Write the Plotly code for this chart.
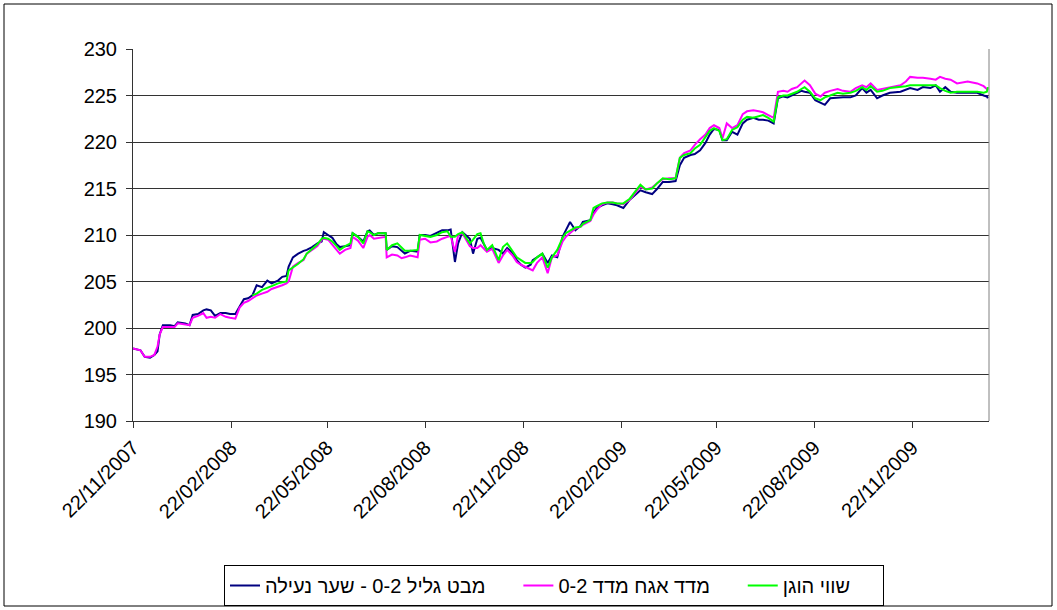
import plotly.graph_objects as go
import pandas as pd

# Days since 22/11/2007 for each reading
days = [0, 7, 11, 16, 20, 23, 25, 28, 35, 39, 42, 49, 53, 56, 61, 66, 69, 73, 77, 82,
        87, 91, 96, 100, 104, 108, 112, 116, 121, 126, 130, 136, 140, 144, 146, 150, 155, 160, 163, 168,
        173, 177, 179, 183, 187, 191, 194, 199, 204, 206, 211, 216, 220, 222, 226, 230, 237, 238, 243, 248,
        252, 255, 260, 267, 269, 274, 279, 285, 290, 295, 298, 302, 305, 309, 313, 316, 319, 323, 326, 329,
        332, 337, 343, 347, 351, 356, 360, 364, 368, 373, 375, 379, 384, 389, 393, 398, 403, 406, 410, 415,
        420, 422, 429, 432, 435, 440, 445, 450, 454, 460, 466, 471, 476, 481, 487, 492, 497, 503, 509, 513,
        517, 523, 527, 532, 537, 541, 545, 550, 553, 557, 562, 567, 572, 576, 582, 587, 591, 596, 601, 605,
        610, 614, 618, 623, 627, 630, 635, 640, 645, 649, 654, 661, 666, 673, 678, 684, 688, 692, 698, 703,
        710, 720, 725, 729, 736, 741, 748, 753, 757, 762, 767, 773, 783, 792, 798, 801, 802]

navy = [197.8, 197.6, 196.9, 196.8, 197.1, 197.5, 199.3, 200.3, 200.3, 200.2, 200.6, 200.5, 200.3, 201.4, 201.5, 201.9, 202.0, 201.9, 201.3, 201.6,
        201.6, 201.5, 201.5, 202.3, 203.1, 203.2, 203.5, 204.6, 204.4, 205.1, 204.8, 205.1, 205.5, 205.6, 206.6, 207.6, 208.0, 208.3, 208.4, 208.7,
        209.1, 209.3, 210.3, 210.0, 209.7, 209.0, 208.7, 208.8, 208.9, 210.2, 209.8, 209.3, 210.4, 210.5, 210.0, 210.2, 210.2, 208.4, 208.8, 208.7,
        208.3, 208.0, 208.3, 208.2, 210.0, 210.0, 209.9, 210.2, 210.5, 210.5, 210.6, 207.1, 209.1, 210.3, 209.9, 209.6, 208.0, 209.6, 209.7, 209.0,
        208.4, 208.6, 208.4, 208.0, 208.6, 208.1, 207.3, 206.8, 206.5, 206.8, 207.3, 207.6, 208.0, 207.0, 207.8, 207.6, 209.8, 210.5, 211.4, 210.5,
        211.0, 211.4, 211.6, 212.4, 212.9, 213.2, 213.4, 213.3, 213.2, 212.9, 213.8, 214.3, 214.8, 214.6, 214.4, 215.0, 215.7, 215.7, 215.8, 217.5,
        218.3, 218.6, 218.7, 219.1, 219.9, 220.8, 221.4, 221.3, 220.2, 220.2, 221.1, 220.8, 222.0, 222.4, 222.6, 222.4, 222.4, 222.3, 222.0, 224.7,
        224.9, 224.8, 225.0, 225.3, 225.5, 225.4, 225.3, 224.5, 224.2, 224.0, 224.7, 224.8, 224.8, 224.8, 225.0, 225.8, 225.3, 225.6, 224.7, 225.0,
        225.3, 225.4, 225.6, 225.8, 225.6, 225.9, 225.8, 226.1, 225.4, 225.9, 225.4, 225.3, 225.3, 225.3, 225.0, 224.9, 224.7]

magenta = [197.8, 197.6, 196.9, 196.9, 197.1, 198.0, 199.3, 200.1, 200.1, 200.1, 200.5, 200.4, 200.3, 201.1, 201.3, 201.6, 201.1, 201.2, 201.1, 201.5,
           201.2, 201.1, 201.0, 202.2, 202.7, 202.9, 203.2, 203.5, 203.7, 203.9, 204.2, 204.4, 204.6, 204.8, 205.0, 206.6, 207.0, 207.3, 208.0, 208.4,
           208.8, 209.5, 209.6, 209.5, 209.0, 208.4, 208.0, 208.4, 208.6, 209.8, 209.4, 208.6, 209.8, 210.0, 209.6, 209.7, 209.8, 207.6, 207.9, 207.8,
           207.5, 207.6, 207.8, 207.6, 209.5, 209.6, 209.2, 209.3, 209.6, 209.8, 209.9, 208.2, 210.0, 210.2, 209.4, 208.8, 208.6, 208.6, 208.9, 208.5,
           208.2, 208.5, 207.0, 207.8, 208.4, 207.8, 207.1, 206.8, 206.6, 206.3, 206.2, 207.0, 207.6, 205.9, 207.6, 207.8, 209.3, 209.8, 210.2, 210.7,
           210.9, 211.1, 211.5, 212.2, 212.7, 213.3, 213.5, 213.5, 213.4, 213.3, 213.8, 214.5, 215.2, 214.9, 215.1, 215.6, 216.0, 216.1, 216.1, 218.3,
           218.8, 219.1, 219.7, 220.3, 220.8, 221.5, 221.8, 221.5, 220.4, 222.0, 221.5, 221.8, 223.0, 223.3, 223.4, 223.3, 223.2, 222.9, 222.6, 225.4,
           225.5, 225.4, 225.7, 225.9, 226.3, 226.6, 226.1, 225.2, 224.9, 225.3, 225.5, 225.7, 225.5, 225.4, 225.8, 226.1, 225.9, 226.3, 225.6, 225.7,
           225.9, 226.1, 226.5, 227.0, 226.9, 226.9, 226.8, 226.7, 227.0, 226.8, 226.7, 226.3, 226.5, 226.3, 226.0, 225.7, 225.6]

green = [None] * 26 + [
    203.5, 203.7, 204.1, 204.3, 204.5, 204.8, 204.9, 205.0, 206.2, 206.5, 206.9, 207.4, 208.0, 208.5,
    209.0, 209.6, 209.7, 209.6, 209.3, 208.8, 208.4, 208.8, 209.1, 210.2, 209.8, 209.1, 210.4, 210.3, 210.0, 210.2, 210.2, 208.4, 208.9, 209.1,
    208.6, 208.3, 208.3, 208.4, 210.0, 209.9, 209.8, 210.0, 210.3, 210.4, 209.8, 209.8, 210.1, 210.3, 209.6, 209.1, 209.5, 210.1, 210.2, 209.1,
    208.4, 208.9, 207.3, 208.7, 209.1, 208.2, 207.6, 207.3, 207.0, 207.0, 207.1, 207.6, 208.0, 206.5, 207.6, 208.4, 209.7, 210.2, 210.5, 210.8,
    210.9, 211.2, 211.6, 212.9, 213.1, 213.4, 213.5, 213.5, 213.4, 213.4, 213.9, 214.6, 215.4, 214.9, 215.0, 215.6, 216.1, 216.0, 216.1, 218.3,
    218.6, 218.8, 219.3, 219.7, 220.5, 221.2, 221.5, 221.2, 220.2, 220.3, 221.3, 221.6, 222.4, 222.7, 222.6, 222.8, 222.9, 222.6, 222.2, 224.8,
    225.0, 225.0, 225.2, 225.4, 225.7, 225.9, 225.4, 224.7, 224.5, 224.8, 225.0, 225.3, 225.2, 225.3, 225.5, 225.9, 225.6, 226.0, 225.4, 225.5,
    225.8, 225.9, 226.0, 226.1, 226.1, 226.1, 226.1, 226.1, 225.8, 225.5, 225.3, 225.4, 225.4, 225.4, 225.3, 225.4, 225.9]

tick_dates = ["2007-11-22", "2008-02-22", "2008-05-22", "2008-08-22", "2008-11-22",
              "2009-02-22", "2009-05-22", "2009-08-22", "2009-11-22"]
tick_labels = ["22/11/2007", "22/02/2008", "22/05/2008", "22/08/2008", "22/11/2008",
               "22/02/2009", "22/05/2009", "22/08/2009", "22/11/2009"]

names = ["מבט גליל 0-2 - שער נעילה", "מדד אגח מדד 0-2", "שווי הוגן"]
colors = ["#000080", "#FF00FF", "#00FF00"]

dates = pd.Timestamp("2007-11-22") + pd.to_timedelta(days, unit="D")
pad = "\u00a0" * 5  # extra spacing after each legend label

fig = go.Figure()
for name, vals, col in zip(names, [navy, magenta, green], colors):
    fig.add_trace(go.Scatter(x=dates, y=vals, mode="lines", name=name + pad,
                             line=dict(color=col, width=2), connectgaps=False))

L, R, T, B = 133, 989, 49, 421
W, H = 1057, 610
pw, ph = R - L, B - T

def px(xp):
    return (xp - L) / pw

def py(yp):
    return (B - yp) / ph

fig.update_layout(
    width=W, height=H,
    margin=dict(l=L, r=W - R, t=T, b=H - B, pad=0, autoexpand=False),
    paper_bgcolor="white", plot_bgcolor="white",
    font=dict(family="Liberation Sans, Arial", size=20, color="black"),
    showlegend=True,
    legend=dict(orientation="h", xref="container", yref="container",
                x=554 / W, xanchor="center", y=(H - 565) / H, yanchor="top",
                bordercolor="black", borderwidth=1, font=dict(size=20),
                tracegroupgap=0),
    shapes=[dict(type="rect", xref="paper", yref="paper",
                 x0=px(4), x1=px(1052), y0=py(606), y1=py(4),
                 line=dict(color="black", width=1))],
)
fig.update_xaxes(type="date", range=["2007-11-22", "2010-02-02"],
                 tickvals=tick_dates, ticktext=tick_labels, tickangle=-45,
                 ticks="outside", ticklen=6, tickcolor="#333", showgrid=False,
                 showline=True, linecolor="#333", linewidth=1, mirror=False,
                 tickfont=dict(size=20), automargin=False)
fig.update_yaxes(range=[190, 230], dtick=5, tick0=190,
                 ticks="outside", ticklen=6, tickcolor="#333",
                 showgrid=True, gridcolor="#333", gridwidth=1,
                 showline=True, linecolor="#333", linewidth=1, mirror=False,
                 tickfont=dict(size=20), zeroline=False, ticklabelstandoff=5,
                 automargin=False)
# right border of plot area
fig.add_shape(type="line", xref="paper", yref="paper", x0=1, x1=1, y0=0, y1=1,
              line=dict(color="#808080", width=1))

fig.write_html("out.html", config={"displayModeBar": False, "staticPlot": True},
               post_script="document.body.style.margin='0';document.body.style.overflow='hidden';")
